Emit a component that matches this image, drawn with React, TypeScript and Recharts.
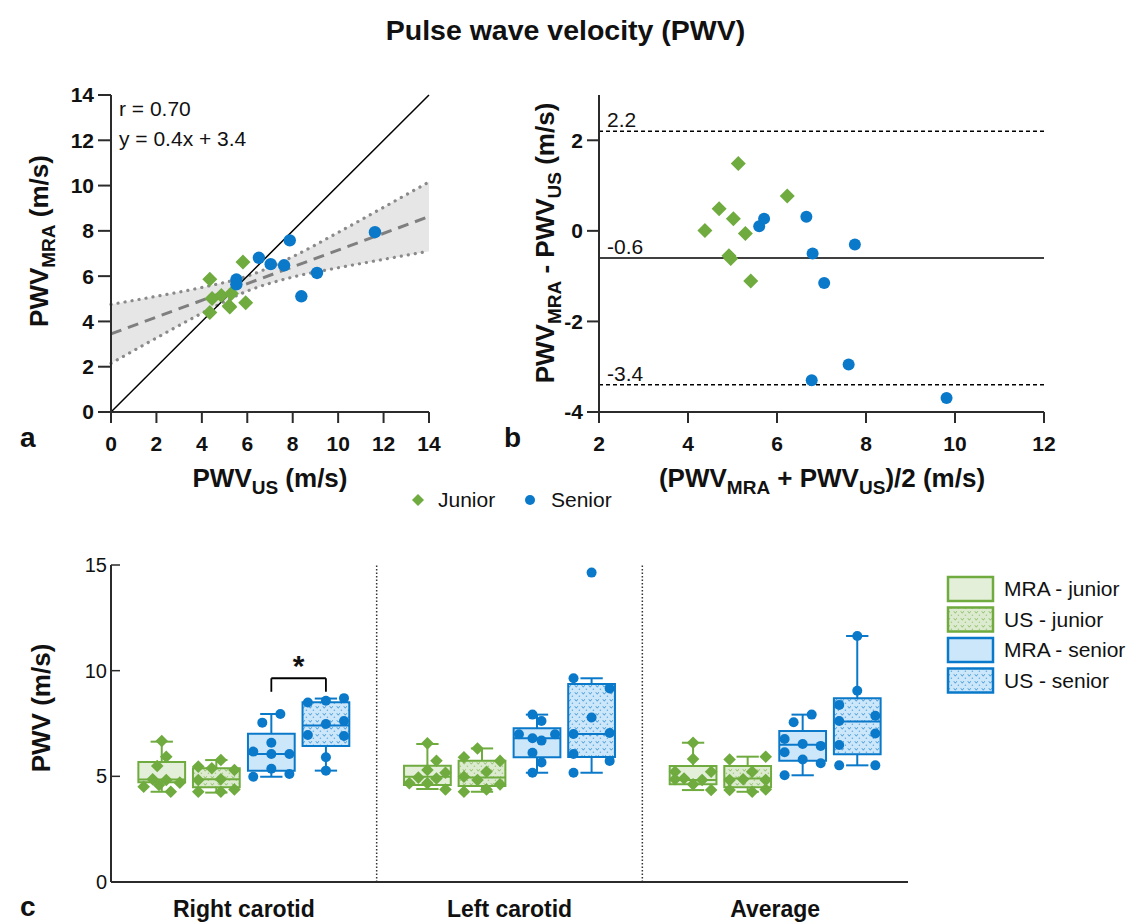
import React from "react";
import {
  Area,
  ComposedChart,
  Line,
  ReferenceArea,
  ReferenceDot,
  ReferenceLine,
  Scatter,
  XAxis,
  YAxis,
} from "recharts";

// Panel figure "Pulse wave velocity (PWV)": a) correlation, b) Bland-Altman, c) box plots.

const FONT = '"Liberation Sans", Arial, Helvetica, sans-serif';
const GREEN = "#6FAB3E";
const GREEN_LIGHT = "#E3EFD9";
const BLUE = "#0A79C9";
const BLUE_LIGHT = "#CCE6FA";
const INK = "#111";
const FRAME = "#2b2b2b";

// --- a) PWV_US vs PWV_MRA
const A_JUNIOR = [
  { x: 4.35, y: 5.86 }, { x: 5.81, y: 6.62 }, { x: 4.35, y: 4.39 },
  { x: 4.45, y: 5.01 }, { x: 4.86, y: 5.15 }, { x: 5.3, y: 5.23 },
  { x: 5.23, y: 4.64 }, { x: 5.2, y: 4.68 }, { x: 5.93, y: 4.83 },
];
const A_SENIOR = [
  { x: 5.52, y: 5.85 }, { x: 5.52, y: 5.64 }, { x: 6.51, y: 6.81 },
  { x: 7.03, y: 6.53 }, { x: 7.62, y: 6.48 }, { x: 7.87, y: 7.58 },
  { x: 8.38, y: 5.11 }, { x: 9.07, y: 6.14 }, { x: 11.62, y: 7.94 },
];
const A_IDENTITY = [{ x: 0, y: 0 }, { x: 14, y: 14 }];
const A_FIT = [{ x: 0, y: 3.45 }, { x: 14, y: 8.63 }];
const A_CI_X = [0, 2, 4, 6, 8, 10, 12, 14];
const A_CI_LO = [2.15, 3.27, 4.36, 5.34, 5.96, 6.37, 6.74, 7.1];
const A_CI_HI = [4.75, 5.11, 5.5, 6.0, 6.86, 7.93, 9.04, 10.16];
const A_TICKS = [0, 2, 4, 6, 8, 10, 12, 14];

// --- b) Bland-Altman
const B_JUNIOR = [
  { x: 4.38, y: 0.01 }, { x: 4.7, y: 0.49 }, { x: 5.02, y: 0.27 },
  { x: 5.13, y: 1.49 }, { x: 5.29, y: -0.06 }, { x: 4.96, y: -0.61 },
  { x: 4.92, y: -0.55 }, { x: 5.41, y: -1.11 }, { x: 6.23, y: 0.77 },
];
const B_SENIOR = [
  { x: 5.6, y: 0.1 }, { x: 5.71, y: 0.27 }, { x: 6.66, y: 0.31 },
  { x: 6.8, y: -0.5 }, { x: 7.06, y: -1.15 }, { x: 7.75, y: -0.3 },
  { x: 7.61, y: -2.95 }, { x: 6.78, y: -3.3 }, { x: 9.81, y: -3.69 },
];
const B_UPPER = 2.2;
const B_BIAS = -0.6;
const B_LOWER = -3.4;
const B_XTICKS = [2, 4, 6, 8, 10, 12];
const B_YTICKS = [-4, -2, 0, 2];

// --- c) box plots: [min, q1, median, q3, max] per site
const GROUPS = ["Right carotid", "Left carotid", "Average"];
const MRA_JUNIOR_BOX = [[4.27, 4.72, 4.85, 5.68, 6.64], [4.4, 4.59, 4.98, 5.5, 6.53], [4.35, 4.62, 4.83, 5.49, 6.59]];
const US_JUNIOR_BOX = [[4.23, 4.48, 4.86, 5.38, 5.77], [4.27, 4.54, 4.94, 5.74, 6.32], [4.27, 4.48, 4.9, 5.49, 5.93]];
const MRA_SENIOR_BOX = [[4.98, 5.27, 6.06, 7.02, 7.95], [5.17, 5.9, 6.8, 7.27, 7.92], [5.05, 5.74, 6.5, 7.15, 7.92]];
const US_SENIOR_BOX = [[5.27, 6.44, 7.4, 8.5, 8.68], [5.17, 5.91, 7.0, 9.37, 9.64], [5.52, 6.04, 7.59, 8.69, 11.64]];
// individual subjects: [value, jitter column]
const MRA_JUNIOR_PTS = [
  [[6.67, 0], [5.93, 0.5], [5.49, -0.5], [4.86, -1], [4.51, -2], [4.59, -0.3], [4.83, 0.5], [4.7, 2], [4.27, 1]],
  [[6.56, 0], [5.74, 1], [5.3, 0], [5.17, 2], [4.94, -1], [4.9, 1], [4.67, -2], [4.67, 0], [4.38, 2]],
  [[6.59, 0], [5.82, 0], [5.22, 2], [5.22, -2], [4.9, -1], [4.83, 1], [4.62, 0], [4.86, -2], [4.35, 2]],
];
const US_JUNIOR_PTS = [
  [[5.77, 0.5], [5.46, -2], [5.38, -0.5], [5.3, 2], [4.83, -2], [4.86, 0.5], [4.27, -2], [4.27, 0.5], [4.38, 2]],
  [[6.32, -0.5], [5.9, -2], [5.73, 2], [5.22, 0.5], [4.98, -2], [4.83, -0.5], [4.62, 2], [4.38, 0.5], [4.27, -2]],
  [[5.8, -2], [5.93, 2], [5.22, 0.5], [4.86, -0.5], [4.83, -2], [4.83, 2], [4.35, -2], [4.27, 0.5], [4.38, 2]],
];
const MRA_SENIOR_PTS = [
  [[7.95, 1], [7.54, -1], [6.59, 0], [6.17, -2], [6.06, 0], [6.06, 2], [5.36, 0], [5.11, 2], [4.98, -2]],
  [[7.92, -0.5], [7.62, 0.5], [6.99, -2], [6.99, 2], [6.8, -0.5], [6.69, 0.5], [6.12, -0.5], [5.66, 0.5], [5.17, -0.5]],
  [[7.92, 1], [7.56, -1], [6.77, -2], [6.53, 0], [6.44, 2], [6.14, -2], [5.8, 0], [5.62, 2], [5.05, -2]],
];
const US_SENIOR_PTS = [
  [[8.49, -2], [8.58, 0], [8.7, 2], [7.48, 0], [7.62, 2], [6.96, -2], [6.91, 2], [5.9, 0], [5.27, 0]],
  [[14.64, 0], [9.64, -2], [9.16, 2], [7.78, 0], [7.0, -2], [7.05, 2], [6.06, -2], [5.73, 2], [5.17, -2]],
  [[11.64, 0], [9.05, 0], [8.38, -2], [7.87, 2], [7.62, -2], [7.03, 2], [6.48, -2], [5.52, -2], [5.52, 2]],
];
const C_TICKS = [0, 5, 10, 15];
// significance bracket (right carotid, MRA-senior vs US-senior)
const SIG = { group: 0, from: 2, to: 3, top: 9.64, foot: 9.0 };

const SERIES = [
  { name: "MRA - junior", box: MRA_JUNIOR_BOX, pts: MRA_JUNIOR_PTS, color: GREEN, fill: GREEN_LIGHT, mark: "diamond" },
  { name: "US - junior", box: US_JUNIOR_BOX, pts: US_JUNIOR_PTS, color: GREEN, fill: "url(#texJ)", mark: "diamond" },
  { name: "MRA - senior", box: MRA_SENIOR_BOX, pts: MRA_SENIOR_PTS, color: BLUE, fill: BLUE_LIGHT, mark: "dot" },
  { name: "US - senior", box: US_SENIOR_BOX, pts: US_SENIOR_PTS, color: BLUE, fill: "url(#texS)", mark: "dot" },
];

const SLOT = [-0.309, -0.1035, 0.1035, 0.309];
const HALF = 0.088;
const CAP = 0.042;
const STEP = 0.034;

const diamond = (r: number, fill: string) => (p: any) => (
  <path
    d={`M${p.cx},${p.cy - r}L${p.cx + r},${p.cy}L${p.cx},${p.cy + r}L${p.cx - r},${p.cy}Z`}
    fill={fill}
  />
);
const dot = (r: number, fill: string) => (p: any) => <circle cx={p.cx} cy={p.cy} r={r} fill={fill} />;

type Part = [string, boolean?];

function Rich({ x, y, parts, size, rotate }: { x: number; y: number; parts: Part[]; size: number; rotate?: boolean }) {
  const sub = Math.round(size * 0.72);
  const shift = Math.round(size * 0.28);
  let low = false;
  return (
    <text
      x={x}
      y={y}
      textAnchor="middle"
      fontFamily={FONT}
      fontWeight={700}
      fontSize={size}
      fill={INK}
      style={{ whiteSpace: "pre" }}
      transform={rotate ? `rotate(-90 ${x} ${y})` : undefined}
    >
      {parts.map(([t, s], i) => {
        const dy = s && !low ? shift : !s && low ? -shift : 0;
        low = !!s;
        return (
          <tspan key={i} dy={dy} fontSize={s ? sub : size}>
            {t}
          </tspan>
        );
      })}
    </text>
  );
}

const boldTick = { fill: INK, fontSize: 21, fontWeight: 700, fontFamily: FONT };
const frameLine = { stroke: FRAME, strokeWidth: 2 };

function Frame({ xd, yd }: { xd: number[]; yd: number[] }) {
  return (
    <>
      <XAxis xAxisId="top" orientation="top" type="number" domain={xd} height={0} tick={false} tickLine={false} axisLine={frameLine} />
      <YAxis yAxisId="right" orientation="right" type="number" domain={yd} width={0} tick={false} tickLine={false} axisLine={frameLine} />
    </>
  );
}

function PanelA() {
  const band = A_CI_X.map((x, i) => ({ x, lo: A_CI_LO[i], hi: A_CI_HI[i] }));
  return (
    <ComposedChart width={450} height={445} data={band} margin={{ top: 35, right: 21, bottom: 33, left: 0 }}>
      <XAxis
        dataKey="x"
        type="number"
        domain={[0, 14]}
        ticks={A_TICKS}
        height={60}
        tick={boldTick}
        tickSize={11}
        tickMargin={13}
        tickLine={frameLine}
        axisLine={frameLine}
        label={() => <Rich x={270} y={427} size={26} parts={[["PWV"], ["US", true], [" (m/s)"]]} />}
      />
      <YAxis
        dataKey="y"
        type="number"
        domain={[0, 14]}
        ticks={A_TICKS}
        width={111}
        tick={boldTick}
        tickSize={13}
        tickMargin={4}
        tickLine={frameLine}
        axisLine={frameLine}
        label={() => <Rich x={48} y={181} rotate size={26} parts={[["PWV"], ["MRA", true], [" (m/s)"]]} />}
      />
      {Frame({ xd: [0, 14], yd: [0, 14] })}
      <Area dataKey={(d: any) => [d.lo, d.hi]} type="monotone" stroke="none" fill="#e6e6e6" fillOpacity={1} isAnimationActive={false} />
      <Line dataKey="lo" type="monotone" stroke="#8a8a8a" strokeWidth={3.2} strokeDasharray="0.1 7" strokeLinecap="round" dot={false} isAnimationActive={false} />
      <Line dataKey="hi" type="monotone" stroke="#8a8a8a" strokeWidth={3.2} strokeDasharray="0.1 7" strokeLinecap="round" dot={false} isAnimationActive={false} />
      <Line data={A_FIT} dataKey="y" stroke="#7f7f7f" strokeWidth={3} strokeDasharray="11 7" dot={false} isAnimationActive={false} />
      <Line data={A_IDENTITY} dataKey="y" stroke="#000" strokeWidth={1.5} dot={false} isAnimationActive={false} />
      <Scatter data={A_JUNIOR} shape={diamond(7.5, GREEN)} isAnimationActive={false} />
      <Scatter data={A_SENIOR} shape={dot(6.2, BLUE)} isAnimationActive={false} />
      <ReferenceDot
        x={0}
        y={14}
        r={0}
        shape={(p: any) => (
          <g fontFamily={FONT} fontSize={21} fill={INK}>
            <text x={p.cx + 8} y={p.cy + 21}>r = 0.70</text>
            <text x={p.cx + 8} y={p.cy + 51}>y = 0.4x + 3.4</text>
          </g>
        )}
      />
    </ComposedChart>
  );
}

function PanelB() {
  const limit = (v: number) => (p: any) => (
    <text x={p.viewBox.x + 8} y={p.viewBox.y - 4} fontFamily={FONT} fontSize={21} fill={INK}>
      {v.toFixed(1)}
    </text>
  );
  return (
    <ComposedChart width={580} height={445} margin={{ top: 35, right: 16, bottom: 33, left: 0 }}>
      <XAxis
        dataKey="x"
        type="number"
        domain={[2, 12]}
        ticks={B_XTICKS}
        height={60}
        tick={boldTick}
        tickSize={11}
        tickMargin={13}
        tickLine={frameLine}
        axisLine={frameLine}
        label={() => (
          <Rich x={342} y={427} size={26} parts={[["(PWV"], ["MRA", true], [" + PWV"], ["US", true], [")/2 (m/s)"]]} />
        )}
      />
      <YAxis
        dataKey="y"
        type="number"
        domain={[-4, 3]}
        ticks={B_YTICKS}
        width={119}
        tick={boldTick}
        tickSize={12}
        tickMargin={4}
        tickLine={frameLine}
        axisLine={frameLine}
        label={() => (
          <Rich x={74} y={183} rotate size={26} parts={[["PWV"], ["MRA", true], [" - PWV"], ["US", true], [" (m/s)"]]} />
        )}
      />
      {Frame({ xd: [2, 12], yd: [-4, 3] })}
      <ReferenceLine y={B_UPPER} stroke="#000" strokeWidth={1.5} strokeDasharray="4 3" label={limit(B_UPPER)} />
      <ReferenceLine y={B_BIAS} stroke="#000" strokeWidth={1.5} label={limit(B_BIAS)} />
      <ReferenceLine y={B_LOWER} stroke="#000" strokeWidth={1.5} strokeDasharray="4 3" label={limit(B_LOWER)} />
      <Scatter data={B_JUNIOR} shape={diamond(7.5, GREEN)} isAnimationActive={false} />
      <Scatter data={B_SENIOR} shape={dot(6, BLUE)} isAnimationActive={false} />
    </ComposedChart>
  );
}

function Texture({ id, base, ink }: { id: string; base: string; ink: string }) {
  return (
    <pattern id={id} width="7" height="7" patternUnits="userSpaceOnUse">
      <rect width="7" height="7" fill={base} />
      <path d="M0.8 1.2 L2.3 3.2 L3.8 1.2" stroke={ink} strokeWidth="0.9" fill="none" opacity={0.75} />
      <circle cx="5.4" cy="5.2" r="0.8" fill={ink} opacity={0.55} />
    </pattern>
  );
}

const InTick = (p: any) => (
  <g>
    <line x1={p.x + 4} x2={p.x + 13} y1={p.y} y2={p.y} stroke={FRAME} strokeWidth={1.5} />
    <text x={p.x} y={p.y} dy={7} textAnchor="end" fontFamily={FONT} fontSize={20} fill={INK}>
      {p.payload.value}
    </text>
  </g>
);

function PanelC() {
  const sigX = (s: number) => SIG.group + 0.5 + SLOT[s];
  const x1 = sigX(SIG.from);
  const x2 = sigX(SIG.to);
  const seg = (a: number, b: number, c: number, d: number) => [{ x: a, y: b }, { x: c, y: d }];
  return (
    <ComposedChart width={1131} height={392} margin={{ top: 35, right: 223, bottom: 0, left: 0 }}>
      <defs>
        <Texture id="texJ" base="#DCEBCF" ink={GREEN} />
        <Texture id="texS" base={BLUE_LIGHT} ink={BLUE} />
      </defs>
      <XAxis
        dataKey="x"
        type="number"
        domain={[0, 3]}
        ticks={[0.5, 1.5, 2.5]}
        tickFormatter={(v: number) => GROUPS[Math.floor(v)]}
        height={40}
        tick={{ fill: INK, fontSize: 23, fontWeight: 700, fontFamily: FONT }}
        tickSize={0}
        tickMargin={19}
        tickLine={false}
        axisLine={frameLine}
      />
      <YAxis
        dataKey="y"
        type="number"
        domain={[0, 15]}
        ticks={C_TICKS}
        width={111}
        tick={InTick}
        tickSize={0}
        tickMargin={4}
        tickLine={false}
        axisLine={frameLine}
        label={() => <Rich x={50} y={178} rotate size={26} parts={[["PWV (m/s)"]]} />}
      />
      {Frame({ xd: [0, 3], yd: [0, 15] })}
      <ReferenceLine x={1} stroke="#333" strokeWidth={1.5} strokeDasharray="1.5 2" />
      <ReferenceLine x={2} stroke="#333" strokeWidth={1.5} strokeDasharray="1.5 2" />
      {SERIES.map((s, si) =>
        s.box.map(([lo, q1, med, q3, hi], g) => {
          const cx = g + 0.5 + SLOT[si];
          const line = { stroke: s.color, strokeWidth: 2 };
          return (
            <React.Fragment key={`${si}-${g}`}>
              <ReferenceArea x1={cx - HALF} x2={cx + HALF} y1={q1} y2={q3} fill={s.fill} fillOpacity={1} stroke={s.color} strokeWidth={2} strokeOpacity={1} />
              <ReferenceLine segment={seg(cx - HALF, med, cx + HALF, med)} {...line} />
              <ReferenceLine segment={seg(cx, q3, cx, hi)} {...line} />
              <ReferenceLine segment={seg(cx, lo, cx, q1)} {...line} />
              <ReferenceLine segment={seg(cx - CAP, hi, cx + CAP, hi)} {...line} />
              <ReferenceLine segment={seg(cx - CAP, lo, cx + CAP, lo)} {...line} />
            </React.Fragment>
          );
        })
      )}
      {SERIES.map((s, si) => (
        <Scatter
          key={s.name}
          name={s.name}
          data={s.pts.flatMap((grp, g) => grp.map(([v, col]) => ({ x: g + 0.5 + SLOT[si] + col * STEP, y: v })))}
          shape={s.mark === "diamond" ? diamond(6.3, GREEN) : dot(5, BLUE)}
          isAnimationActive={false}
        />
      ))}
      <ReferenceLine segment={seg(x1, SIG.foot, x1, SIG.top)} stroke="#000" strokeWidth={1.8} />
      <ReferenceLine segment={seg(x1, SIG.top, x2, SIG.top)} stroke="#000" strokeWidth={1.8} />
      <ReferenceLine segment={seg(x2, SIG.foot, x2, SIG.top)} stroke="#000" strokeWidth={1.8} />
      <ReferenceDot
        x={(x1 + x2) / 2}
        y={SIG.top}
        r={0}
        shape={(p: any) => (
          <text x={p.cx} y={p.cy - 2} textAnchor="middle" fontFamily={FONT} fontWeight={700} fontSize={30} fill={INK}>
            *
          </text>
        )}
      />
    </ComposedChart>
  );
}

const abs = (left: number, top: number, extra: React.CSSProperties = {}): React.CSSProperties => ({
  position: "absolute",
  left,
  top,
  ...extra,
});

export default function App() {
  const text = { fontFamily: FONT, fontSize: 21, color: INK, lineHeight: "24px" };
  const letter = { fontFamily: FONT, fontSize: 28, fontWeight: 700, color: INK, lineHeight: "30px" };
  return (
    <div style={{ position: "absolute", left: 0, top: 0, width: 1131, height: 922, background: "#fff" }}>
      <div style={abs(0, 14, { width: 1131, textAlign: "center", fontFamily: FONT, fontWeight: 700, fontSize: 28.5, lineHeight: "32px", color: INK })}>
        Pulse wave velocity (PWV)
      </div>
      <div style={abs(0, 60)}>
        <PanelA />
      </div>
      <div style={abs(480, 60)}>
        <PanelB />
      </div>
      <div style={abs(0, 530)}>
        <PanelC />
      </div>

      <div style={abs(20, 423, letter)}>a</div>
      <div style={abs(504, 423, letter)}>b</div>
      <div style={abs(20, 896, { ...letter, lineHeight: "22px" })}>c</div>

      {/* group legend for a and b */}
      <svg style={abs(410, 492)} width={16} height={16}>
        <path d="M8,2L14,8L8,14L2,8Z" fill={GREEN} />
      </svg>
      <div style={abs(438, 488, text)}>Junior</div>
      <svg style={abs(522, 492)} width={16} height={16}>
        <circle cx={8} cy={8} r={5} fill={BLUE} />
      </svg>
      <div style={abs(551, 488, text)}>Senior</div>

      {/* legend for c */}
      <svg style={abs(946, 575)} width={50} height={120}>
        <defs>
          <Texture id="legJ" base="#DCEBCF" ink={GREEN} />
          <Texture id="legS" base={BLUE_LIGHT} ink={BLUE} />
        </defs>
        {SERIES.map((s, i) => (
          <rect
            key={s.name}
            x={2}
            y={2 + i * 30.5}
            width={45}
            height={24}
            fill={s.fill.startsWith("url") ? (s.color === GREEN ? "url(#legJ)" : "url(#legS)") : s.fill}
            stroke={s.color}
            strokeWidth={2.5}
          />
        ))}
      </svg>
      {SERIES.map((s, i) => (
        <div key={s.name} style={abs(1004, 577 + i * 30.5, text)}>
          {s.name}
        </div>
      ))}
    </div>
  );
}
